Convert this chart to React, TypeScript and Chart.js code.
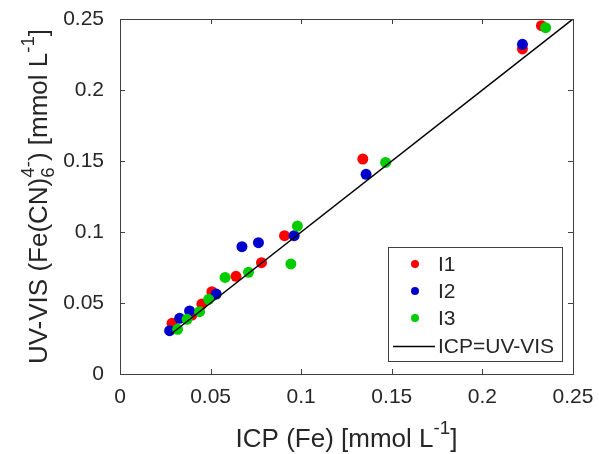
import React, { useEffect, useRef } from 'react';
import { Chart, registerables } from 'chart.js';

Chart.register(...registerables);

// ---- data ----
const i1X = [0.0287, 0.0397, 0.0452, 0.0507, 0.064, 0.0781, 0.0908, 0.134, 0.2221, 0.2326];
const i1Y = [0.0357, 0.0415, 0.0493, 0.058, 0.0688, 0.0784, 0.0974, 0.1514, 0.2289, 0.2453];
const i2X = [0.0274, 0.0329, 0.0384, 0.0531, 0.0673, 0.0764, 0.0961, 0.1358, 0.2221];
const i2Y = [0.0305, 0.0392, 0.0444, 0.0563, 0.0897, 0.0925, 0.0974, 0.1406, 0.2322];
const i3X = [0.0318, 0.037, 0.0439, 0.0489, 0.058, 0.0709, 0.0943, 0.0979, 0.1466, 0.2349];
const i3Y = [0.0315, 0.0385, 0.0439, 0.0526, 0.068, 0.0716, 0.0775, 0.1042, 0.149, 0.2439];
const lineX = [0.028, 0.25];
const lineY = [0.028, 0.25];
const seriesLabels = ['I1', 'I2', 'I3', 'ICP=UV-VIS'];
const seriesColors = ['#ff0000', '#0000cc', '#00cc00', '#000000'];
const xTickValues = [0, 0.05, 0.1, 0.15, 0.2, 0.25];
const xTickLabels = ['0', '0.05', '0.1', '0.15', '0.2', '0.25'];
const yTickValues = [0, 0.05, 0.1, 0.15, 0.2, 0.25];
const yTickLabels = ['0', '0.05', '0.1', '0.15', '0.2', '0.25'];

const FAM = '"Liberation Sans", Arial, Helvetica, sans-serif';
const TXT = '#262626';
const AX = '#404040';
const TICK_F = 21;
const TITLE_F = 26;
const LEG_F = 21;
const SS = 0.72;

type Seg = { t?: string; kind?: 'sup' | 'stack'; sub?: string; sup?: string };

const xTitle: Seg[] = [{ t: 'ICP (Fe) [mmol L' }, { kind: 'sup', t: '-1' }, { t: ']' }];
const yTitle: Seg[] = [
  { t: 'UV-VIS (Fe(CN)' },
  { kind: 'stack', sub: '6', sup: '4-' },
  { t: ') [mmol L' },
  { kind: 'sup', t: '-1' },
  { t: ']' },
];

function segW(ctx: CanvasRenderingContext2D, s: Seg, F: number) {
  if (s.kind === 'stack') {
    ctx.font = `${F * SS}px ${FAM}`;
    return Math.max(ctx.measureText(s.sub!).width, ctx.measureText(s.sup!).width);
  }
  ctx.font = `${s.kind === 'sup' ? F * SS : F}px ${FAM}`;
  return ctx.measureText(s.t!).width;
}

function drawRich(ctx: CanvasRenderingContext2D, segs: Seg[], F: number, cx: number, by: number) {
  let total = 0;
  for (const s of segs) total += segW(ctx, s, F);
  let x = cx - total / 2;
  ctx.textAlign = 'left';
  ctx.textBaseline = 'alphabetic';
  ctx.fillStyle = TXT;
  const rise = F * 0.5;
  const drop = F * 0.25;
  for (const s of segs) {
    const w = segW(ctx, s, F);
    if (s.kind === 'stack') {
      ctx.font = `${F * SS}px ${FAM}`;
      ctx.fillText(s.sub!, x, by + drop);
      ctx.fillText(s.sup!, x, by - rise);
    } else if (s.kind === 'sup') {
      ctx.font = `${F * SS}px ${FAM}`;
      ctx.fillText(s.t!, x, by - rise);
    } else {
      ctx.font = `${F}px ${FAM}`;
      ctx.fillText(s.t!, x, by);
    }
    x += w;
  }
}

const decorPlugin = {
  id: 'decor',
  afterDraw(chart: any) {
    const ctx: CanvasRenderingContext2D = chart.ctx;
    const a = chart.chartArea;
    const xs = chart.scales.x;
    const ys = chart.scales.y;
    ctx.save();
    // frame
    ctx.strokeStyle = AX;
    ctx.lineWidth = 1;
    ctx.strokeRect(Math.round(a.left) + 0.5, Math.round(a.top) + 0.5, Math.round(a.right - a.left), Math.round(a.bottom - a.top));
    // inward ticks
    const tl = 5;
    ctx.beginPath();
    for (const v of xTickValues) {
      const px = Math.round(xs.getPixelForValue(v)) + 0.5;
      ctx.moveTo(px, a.bottom);
      ctx.lineTo(px, a.bottom - tl);
      ctx.moveTo(px, a.top);
      ctx.lineTo(px, a.top + tl);
    }
    for (const v of yTickValues) {
      const py = Math.round(ys.getPixelForValue(v)) + 0.5;
      ctx.moveTo(a.left, py);
      ctx.lineTo(a.left + tl, py);
      ctx.moveTo(a.right, py);
      ctx.lineTo(a.right - tl, py);
    }
    ctx.stroke();

    // titles
    drawRich(ctx, xTitle, TITLE_F, (a.left + a.right) / 2, 447);
    ctx.save();
    ctx.translate(47, (a.top + a.bottom) / 2);
    ctx.rotate(-Math.PI / 2);
    drawRich(ctx, yTitle, TITLE_F, 0, 0);
    ctx.restore();

    // legend
    const bx = a.right - 185, by = a.bottom - 127, bw = 173.5, bh = 113.5;
    ctx.fillStyle = '#ffffff';
    ctx.fillRect(bx, by, bw, bh);
    ctx.strokeStyle = AX;
    ctx.lineWidth = 1;
    ctx.strokeRect(Math.round(bx) + 0.5, Math.round(by) + 0.5, Math.round(bw), Math.round(bh));
    const rows = [by + 17, by + 44, by + 71, by + 99.5];
    const ds = chart.data.datasets;
    ctx.font = `${LEG_F}px ${FAM}`;
    ctx.textBaseline = 'middle';
    ctx.textAlign = 'left';
    for (let i = 0; i < ds.length; i++) {
      const y = rows[i];
      if (ds[i].showLine) {
        ctx.strokeStyle = ds[i].borderColor;
        ctx.lineWidth = 1.3;
        ctx.beginPath();
        ctx.moveTo(bx + 5, y);
        ctx.lineTo(bx + 47, y);
        ctx.stroke();
      } else {
        ctx.fillStyle = ds[i].backgroundColor;
        ctx.beginPath();
        ctx.arc(bx + 27, y, 4, 0, Math.PI * 2);
        ctx.fill();
      }
      ctx.fillStyle = TXT;
      ctx.fillText(ds[i].label, bx + 50, y + 1);
    }
    ctx.restore();
  },
};

function pts(xs: number[], ys: number[]) {
  return xs.map((x, i) => ({ x, y: ys[i] }));
}

export default function App() {
  const ref = useRef<HTMLCanvasElement | null>(null);
  useEffect(() => {
    if (!ref.current) return;
    const mk = (i: number, d: { x: number; y: number }[], order: number) => ({
      label: seriesLabels[i],
      data: d,
      showLine: false,
      pointRadius: 5.5,
      pointBorderWidth: 0,
      backgroundColor: seriesColors[i],
      borderColor: seriesColors[i],
      pointBackgroundColor: seriesColors[i],
      order,
    });
    const chart = new Chart(ref.current, {
      type: 'scatter',
      data: {
        datasets: [
          mk(0, pts(i1X, i1Y), 3),
          mk(1, pts(i2X, i2Y), 2),
          mk(2, pts(i3X, i3Y), 1),
          {
            label: seriesLabels[3],
            data: pts(lineX, lineY),
            showLine: true,
            borderColor: seriesColors[3],
            backgroundColor: seriesColors[3],
            borderWidth: 1.5,
            pointRadius: 0,
            order: 0,
          } as any,
        ],
      },
      plugins: [decorPlugin],
      options: {
        responsive: false,
        animation: false,
        events: [],
        layout: { padding: { left: 0, right: 26, top: 19, bottom: 0 } },
        plugins: { legend: { display: false }, tooltip: { enabled: false }, title: { display: false } },
        scales: {
          x: {
            type: 'linear',
            min: 0,
            max: 0.25,
            afterBuildTicks: (s: any) => {
              s.ticks = xTickValues.map((v) => ({ value: v }));
            },
            afterFit: (s: any) => {
              s.height = 80;
              s.paddingLeft = 0;
              s.paddingRight = 0;
            },
            ticks: {
              callback: (_v: any, i: number) => xTickLabels[i],
              font: { family: FAM, size: TICK_F },
              color: TXT,
              padding: 11,
              maxRotation: 0,
              autoSkip: false,
            },
            grid: { display: false, drawTicks: false },
            border: { display: false },
          },
          y: {
            type: 'linear',
            min: 0,
            max: 0.25,
            afterBuildTicks: (s: any) => {
              s.ticks = yTickValues.map((v) => ({ value: v }));
            },
            afterFit: (s: any) => {
              s.width = 120;
              s.paddingTop = 0;
              s.paddingBottom = 0;
            },
            ticks: {
              callback: (_v: any, i: number) => yTickLabels[i],
              font: { family: FAM, size: TICK_F },
              color: TXT,
              padding: 16,
              autoSkip: false,
            },
            grid: { display: false, drawTicks: false },
            border: { display: false },
          },
        },
      },
    } as any);
    return () => chart.destroy();
  }, []);
  return (
    <div style={{ position: 'absolute', left: 0, top: 0, width: 599, height: 454, background: '#fff' }}>
      <canvas ref={ref} width={599} height={454} style={{ width: 599, height: 454, display: 'block' }} />
    </div>
  );
}
